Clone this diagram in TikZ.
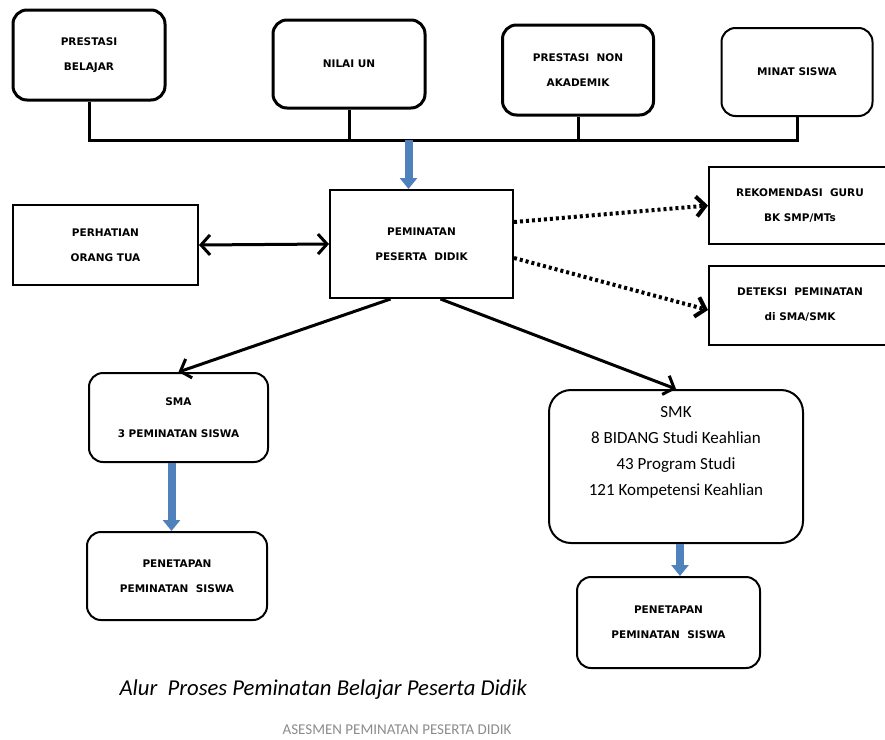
\documentclass[tikz,border=0pt]{standalone}
\usepackage{fontspec}
\setmainfont{Carlito}
\newfontfamily\boxfont{DejaVu Sans}
\usetikzlibrary{arrows.meta}
\definecolor{officeblue}{RGB}{79,129,189}
\definecolor{footgray}{RGB}{140,140,140}
\newcommand{\boxtext}{\boxfont\bfseries\fontsize{10.5}{25}\selectfont}
\tikzset{
  rbox/.style={draw, rounded corners=14pt, line width=3pt, align=center, font=\boxtext, inner sep=0pt},
  sbox/.style={draw, line width=2pt, align=center, font=\boxtext, inner sep=0pt},
  bus/.style={line width=3pt},
  flow/.style={line width=3pt, -{Straight Barb[length=9pt,width=20pt]}},
  flowboth/.style={line width=3pt, {Straight Barb[length=9pt,width=20pt]}-{Straight Barb[length=9pt,width=20pt]}},
  dots/.style={line width=4pt, dash pattern=on 3pt off 3pt, -{Straight Barb[length=9pt,width=20pt]}},
  blueflow/.style={officeblue, line width=8pt, -{Triangle[length=11pt,width=17pt]}},
}
\begin{document}
\begin{tikzpicture}[x=1pt,y=-1pt]
\useasboundingbox (0,0) rectangle (885,739);
% sumber data
\node[rbox, minimum width=152pt, minimum height=90pt] (pb) at (89,55) {PRESTASI\\BELAJAR};
\node[rbox, minimum width=152pt, minimum height=88pt] (nu) at (349,64) {NILAI UN};
\node[rbox, minimum width=151pt, minimum height=90pt] (pn) at (578,70) {PRESTASI\ \ NON\\AKADEMIK};
\node[rbox, line width=2pt, minimum width=151pt, minimum height=88pt] (ms) at (797,72) {MINAT SISWA};
\coordinate (bus) at (0,140);
\draw[bus] (pb.south) |- (ms.south |- bus) -- (ms.south);
\draw[bus] (nu.south) -- (nu.south |- bus);
\draw[bus] (pn.south) -- (pn.south |- bus);
% peminatan
\node[sbox, minimum width=183pt, minimum height=108pt] (pd) at (421.5,244) {PEMINATAN\\PESERTA\ \ DIDIK};
\node[sbox, minimum width=185pt, minimum height=80pt] (ot) at (105.5,245) {PERHATIAN\\ORANG TUA};
\node[sbox, minimum width=182pt, minimum height=77pt] (rg) at (800,205.5) {REKOMENDASI\ \ GURU\\BK SMP/MTs};
\node[sbox, minimum width=182pt, minimum height=79pt] (dt) at (800,305) {DETEKSI\ \ PEMINATAN\\di SMA/SMK};
\draw[blueflow] ([xshift=-13pt]pd.north |- bus) -- ([xshift=-13pt]pd.north);
\draw[flowboth] (ot.east) -- (pd.west);
\draw[dots] ([yshift=22pt]pd.east) -- (rg.west);
\draw[dots] ([yshift=-14pt]pd.east) -- ([yshift=-5pt]dt.west);
% jalur SMA dan SMK
\node[rbox, line width=2pt, minimum width=179pt, minimum height=89pt] (sma) at (178.5,417.5) {SMA\\[7pt]3 PEMINATAN SISWA};
\node[rbox, line width=2pt, minimum width=180pt, minimum height=88pt] (pl) at (177,576) {PENETAPAN\\PEMINATAN\ \ SISWA};
\node[rbox, line width=2pt, rounded corners=22pt, minimum width=254pt, minimum height=153pt,
  font=\fontsize{17}{26}\selectfont, text depth=31pt] (smk) at (676,466.5)
  {SMK\\8 BIDANG Studi Keahlian\\43 Program Studi\\121 Kompetensi Keahlian};
\node[rbox, line width=2pt, minimum width=183pt, minimum height=91pt] (pr) at (668.5,622.5) {PENETAPAN\\PEMINATAN\ \ SISWA};
\draw[flow] ([xshift=-31pt]pd.south) -- (sma.north);
\draw[flow] ([xshift=19pt]pd.south) -- (smk.north);
\draw[blueflow] ([xshift=-7pt]sma.south) -- ([xshift=-7pt]sma.south |- pl.north);
\draw[blueflow] ([xshift=4pt]smk.south) -- ([xshift=4pt]smk.south |- pr.north);
% judul
\node[anchor=west, font=\itshape\fontsize{22.7}{26}\selectfont] (cap) at (116,690) {Alur\ \ Proses Peminatan Belajar Peserta Didik};
\node[font=\fontsize{15}{17}\selectfont, text=footgray] (foot) at (397,730) {ASESMEN PEMINATAN PESERTA DIDIK};
\end{tikzpicture}
\end{document}
